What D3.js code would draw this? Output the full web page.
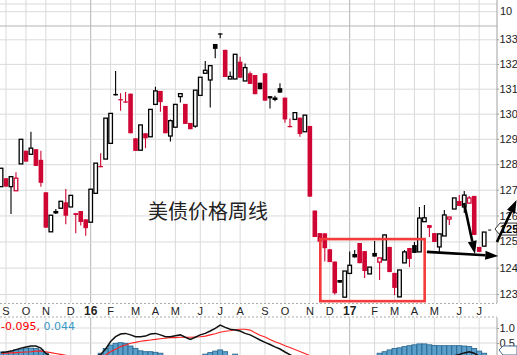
<!DOCTYPE html>
<html>
<head>
<meta charset="utf-8">
<title>美债价格周线</title>
<style>
  body { margin: 0; background: #fff; }
  svg { display: block; }
  text { font-family: "Liberation Sans", Arial, sans-serif; }
</style>
</head>
<body>
<div id="chart"></div>
<script src="https://d3js.org/d3.v7.min.js"></script>
<script>
// weekly bars, each dated on the Monday of its week
var firstWeek = "2015-08-31";
var opens = [127.12,127.45,127.12,126.96,128.01,128.53,128.39,128.59,128.17,126.90,125.37,126.14,126.28,126.51,126.33,126.09,126.17,125.85,
  125.74,126.86,127.93,128.20,128.82,130.79,130.58,130.49,130.80,129.02,128.55,129.22,129.08,130.37,130.91,130.31,129.11,129.46,130.68,130.39,
  129.63,129.50,130.73,131.62,131.35,132.81,133.24,132.57,131.39,131.39,132.09,131.31,131.62,131.55,131.24,131.62,130.70,130.61,131.02,130.64,
  129.51,129.77,129.84,129.28,129.51,126.19,125.32,125.31,124.70,124.23,123.53,122.88,123.78,124.52,124.94,124.63,123.76,124.56,124.21,124.29,
  124.79,123.80,122.89,124.18,124.75,124.86,124.60,125.76,125.63,125.32,124.79,125.21,125.86,126.25,126.56,126.33,126.48,126.76,124.79,124.82];
var highs = [127.84,127.45,127.51,127.68,128.98,128.53,129.28,128.59,128.53,126.90,126.01,126.25,126.55,127.03,126.78,126.09,126.17,125.85,
  127.02,128.04,128.43,129.82,130.01,131.71,130.82,130.87,130.80,129.02,129.55,129.22,130.17,131.08,130.91,130.31,129.77,130.37,130.80,130.39,
  129.63,130.94,131.46,132.12,131.93,132.81,133.25,132.57,131.69,132.39,132.29,132.02,131.69,131.55,131.24,131.62,130.70,130.72,131.22,130.64,
  129.81,130.04,129.84,129.94,129.51,126.19,125.32,125.31,124.70,124.23,123.53,123.87,124.61,124.67,124.94,124.63,124.02,125.02,124.37,125.27,
  124.79,123.80,123.91,124.67,124.75,124.98,126.33,126.41,125.63,125.32,125.29,126.21,125.94,126.68,126.79,126.95,126.76,126.76,124.79,125.36];
var lows = [127.12,127.12,126.06,126.96,128.01,128.10,128.39,127.93,127.12,125.53,125.37,126.06,126.28,125.66,126.33,125.31,125.61,125.22,
  125.74,126.86,127.88,128.20,128.82,130.73,130.12,130.44,129.22,128.52,128.55,128.63,129.08,130.37,130.08,129.22,128.89,129.46,130.45,129.59,
  129.38,129.44,130.73,131.62,130.25,132.23,133.04,131.47,131.39,131.39,131.44,131.31,131.19,130.78,130.98,130.52,130.21,130.50,130.84,129.64,
  129.46,129.77,129.08,129.28,126.73,125.17,124.99,124.23,124.21,122.98,123.43,122.88,123.78,124.39,124.17,123.61,123.76,124.42,123.53,124.29,
  123.83,122.96,122.89,124.18,124.02,124.56,124.60,125.76,125.17,124.98,124.60,125.21,125.63,126.25,126.37,126.10,126.48,125.25,124.60,124.82];
var closes = [127.84,127.12,127.51,127.45,128.98,128.10,128.63,127.93,127.27,125.53,126.01,126.15,126.55,125.99,126.78,126.02,125.75,125.51,
  127.02,128.04,127.88,129.82,130.01,130.73,130.56,130.44,129.22,128.52,129.55,129.02,130.17,130.91,130.46,129.22,129.72,130.37,130.80,129.59,
  129.38,130.94,131.46,131.74,131.93,132.61,133.20,131.47,131.49,132.39,131.44,131.85,131.19,130.78,130.98,130.52,130.61,130.62,130.84,129.77,
  129.46,130.04,129.19,129.94,126.73,125.17,124.99,124.74,124.21,123.03,123.43,123.87,124.09,124.39,124.17,123.87,124.02,124.42,124.37,125.25,
  123.83,123.23,123.91,124.60,124.33,124.56,125.90,125.91,125.52,124.98,125.29,126.02,125.94,126.68,126.37,126.79,126.68,125.25,124.60,125.36];

// MACD(12,26,9) panel
var macdLine = [0.18,0.20,0.23,0.28,0.33,0.37,0.40,0.40,0.33,0.15,0.05,-0.02,-0.05,-0.08,-0.07,-0.09,-0.13,-0.17,
  -0.08,0.05,0.12,0.30,0.55,0.71,0.80,0.82,0.77,0.71,0.71,0.73,0.80,0.82,0.77,0.71,0.71,0.74,0.77,0.69,
  0.62,0.69,0.77,0.82,0.90,0.99,1.10,1.02,0.96,0.93,0.90,0.82,0.77,0.69,0.60,0.52,0.45,0.37,0.30,0.20,
  0.11,0.02,-0.06,-0.12,-0.30,-0.60,-0.85,-1.05,-1.20,-1.40,-1.50,-1.50,-1.45,-1.38,-1.30,-1.25,-1.20,-1.12,-1.00,-0.90,
  -0.82,-0.75,-0.68,-0.58,-0.50,-0.40,-0.30,-0.22,-0.16,-0.12,-0.08,-0.02,0.03,0.08,0.12,0.17,0.21,0.16,0.06,0.02];
var signalLine = [0.16,0.16,0.17,0.18,0.19,0.20,0.21,0.23,0.23,0.21,0.18,0.15,0.12,0.09,0.06,0.03,0.00,-0.03,
  -0.04,-0.02,0.02,0.10,0.21,0.29,0.38,0.43,0.49,0.52,0.56,0.58,0.60,0.62,0.64,0.66,0.68,0.68,0.69,0.69,
  0.69,0.70,0.71,0.73,0.77,0.81,0.86,0.89,0.91,0.94,0.96,0.96,0.93,0.84,0.76,0.70,0.62,0.54,0.48,0.41,
  0.35,0.28,0.22,0.15,0.08,-0.05,-0.20,-0.35,-0.50,-0.65,-0.80,-0.92,-1.02,-1.09,-1.14,-1.17,-1.18,-1.17,-1.13,-1.10,
  -1.06,-1.02,-0.97,-0.92,-0.86,-0.80,-0.73,-0.66,-0.58,-0.52,-0.46,-0.40,-0.34,-0.29,-0.24,-0.19,-0.14,-0.10,-0.08,-0.06];
var histogram = [0.20,0.20,0.21,0.27,0.30,0.33,0.33,0.32,0.27,0.17,-0.05,-0.10,-0.12,-0.15,-0.12,-0.12,-0.13,-0.14,
  -0.04,0.07,0.16,0.32,0.43,0.49,0.51,0.49,0.40,0.32,0.24,0.21,0.21,0.19,0.16,0.05,0.03,0.06,0.08,0.00,
  -0.07,-0.01,0.06,0.13,0.18,0.23,0.27,0.21,0.07,0.13,-0.05,-0.10,-0.15,-0.20,-0.25,-0.30,-0.30,-0.30,-0.30,-0.30,
  -0.30,-0.30,-0.30,-0.30,-0.40,-0.60,-0.65,-0.70,-0.70,-0.75,-0.70,-0.60,-0.45,-0.30,-0.16,-0.08,-0.02,0.05,0.16,0.21,
  0.27,0.32,0.34,0.38,0.41,0.44,0.47,0.47,0.44,0.42,0.41,0.41,0.41,0.41,0.41,0.40,0.38,0.32,0.23,0.16];

var priceTicks = [123, 124, 125, 126, 127, 128, 129, 130, 131, 132, 133];
var macdTicks = [0.5, 1.0];
var title = "美债价格周线";
var macdReadout = ["-0.095, ", "0.044"];

// annotations, in (week number from the first bar, price)
var arrows = [
  {from: [92.95, 126.48], to: [95.16, 124.52]},
  {from: [85.5, 124.60], to: [99.83, 124.44]},
  {from: [99.56, 124.98], to: [103.5, 126.60]}
];
var boxWeeks = [64.1, 85.05];
var boxPrices = [125.09, 122.73];

var width = 517, height = 355;
var plotRight = 497;
var mainTop = 26, mainBottom = 303;
var macdTop = 317.5, macdBottom = 355;
var red = "#cf0533";

var t0 = d3.utcParse("%Y-%m-%d")(firstWeek);
var bars = closes.map(function(c, k) {
  return {date: new Date(t0.getTime() + k * 7 * 864e5), o: opens[k], h: highs[k], l: lows[k], c: c,
          prev: k > 0 ? closes[k - 1] : c, macd: macdLine[k], signal: signalLine[k], hist: histogram[k]};
});
function weekDate(k) { return new Date(t0.getTime() + k * 7 * 864e5); }

var x = d3.scaleUtc()
  .domain([Date.UTC(2016, 0, 4), Date.UTC(2017, 0, 2)])
  .range([90.7, 349.7]);
var y = d3.scaleLog().domain([123, 133]).range([294, 39.3]);
var ym = d3.scaleLinear().domain([0, 1]).range([358, 328]);

var svg = d3.select("#chart").append("svg")
  .attr("width", width).attr("height", height);

svg.append("rect").attr("width", width).attr("height", height).attr("fill", "#fff");

var defs = svg.append("defs");
defs.append("clipPath").attr("id", "clipMain")
  .append("rect").attr("x", 0).attr("y", 0).attr("width", plotRight).attr("height", mainBottom);
defs.append("clipPath").attr("id", "clipMacd")
  .append("rect").attr("x", 0).attr("y", macdTop).attr("width", plotRight).attr("height", macdBottom - macdTop);

// month ticks: the first weekly bar of each month
var monthTicks = d3.utcMonth.range(Date.UTC(2015, 8, 1), Date.UTC(2017, 7, 1))
  .map(function(m) { return {date: d3.utcMonday.ceil(m), month: m}; });

function gridV(g, y1, y2) {
  g.selectAll("line.v").data(monthTicks).enter().append("line")
    .attr("x1", function(d) { return x(d.date); })
    .attr("x2", function(d) { return x(d.date); })
    .attr("y1", y1).attr("y2", y2)
    .attr("stroke", function(d) { return d.month.getUTCMonth() === 0 ? "#b4b4b4" : "#dadada"; })
    .attr("stroke-width", 1);
}

// top strip (tail of the panel above)
var topG = svg.append("g");
topG.selectAll("line").data([4, 11.7]).enter().append("line")
  .attr("x1", 0).attr("x2", plotRight).attr("y1", function(d) { return d; }).attr("y2", function(d) { return d; })
  .attr("stroke", "#dadada");
topG.append("text").attr("x", 500).attr("y", 14.5).attr("font-size", 11).attr("fill", "#222").text("10");

// main panel
var main = svg.append("g");
gridV(main, 0, mainBottom);
main.append("g")
  .attr("transform", "translate(" + plotRight + ",0)")
  .call(d3.axisRight(y).tickValues(priceTicks).tickSize(-plotRight).tickFormat(""))
  .call(function(g) {
    g.select(".domain").remove();
    g.selectAll("line").attr("stroke", "#dadada");
  });
main.append("line").attr("x1", 0).attr("x2", plotRight).attr("y1", mainTop).attr("y2", mainTop)
  .attr("stroke", "#b4b4b4");

var yAxis = main.append("g")
  .attr("transform", "translate(" + plotRight + ",0)")
  .call(d3.axisRight(y).tickValues(priceTicks).tickSize(2).tickFormat(d3.format("d")));
yAxis.select(".domain").attr("stroke", "#a0a0a0").attr("d", "M0,0V" + mainBottom);
yAxis.selectAll("line").attr("stroke", "#a0a0a0");
yAxis.selectAll("text").attr("font-size", 11).attr("fill", "#222").attr("x", 2.5)
  .style("font-family", "'Liberation Sans', Arial, sans-serif");

// title
main.append("text").attr("x", 148).attr("y", 219)
  .style("font-family", "'Noto Sans CJK SC'").attr("font-size", 20).attr("fill", "#222")
  .text(title);

// candles
var candles = main.append("g").attr("clip-path", "url(#clipMain)");
var cg = candles.selectAll("g.c").data(bars).enter().append("g");
function col(d) { return d.c >= d.prev ? "#000" : red; }
cg.append("line")
  .attr("x1", function(d) { return x(d.date); })
  .attr("x2", function(d) { return x(d.date); })
  .attr("y1", function(d) { return y(d.h); })
  .attr("y2", function(d) { return y(d.l); })
  .attr("stroke", col).attr("stroke-width", 1.1);
cg.append("rect")
  .attr("x", function(d) { return x(d.date) - (d.c > d.o ? 1.8 : 2.3); })
  .attr("width", function(d) { return d.c > d.o ? 3.6 : 4.6; })
  .attr("y", function(d) { return y(Math.max(d.o, d.c)); })
  .attr("height", function(d) { return Math.max(1.2, Math.abs(y(d.o) - y(d.c))); })
  .attr("fill", function(d) { return d.c > d.o ? "#fff" : col(d); })
  .attr("stroke", function(d) { return d.c > d.o ? col(d) : "none"; })
  .attr("stroke-width", 1.3);

// last price marker
var last = bars[bars.length - 1];
main.append("line").attr("x1", x(last.date) + 4).attr("x2", x(last.date) + 7)
  .attr("y1", y(last.c) - 2).attr("y2", y(last.c) - 2).attr("stroke", "#000");
var ly = y(last.c) - 3;
main.append("path")
  .attr("d", "M495," + ly + "L500," + (ly - 6) + "H517V" + (ly + 6) + "H500Z")
  .attr("fill", "#fff").attr("stroke", "#333").attr("stroke-width", 1);
main.append("text").attr("x", 500).attr("y", ly + 4).attr("font-size", 11).attr("font-weight", "bold")
  .attr("fill", "#000").text(d3.format("d")(Math.floor(last.c)));

// red box
main.append("rect")
  .attr("x", x(weekDate(boxWeeks[0]))).attr("y", y(boxPrices[0]))
  .attr("width", x(weekDate(boxWeeks[1])) - x(weekDate(boxWeeks[0])))
  .attr("height", y(boxPrices[1]) - y(boxPrices[0]))
  .attr("fill", "none").attr("stroke", "#f43a3a").attr("stroke-width", 2.6);

// arrows
arrows.forEach(function(a) {
  var x1 = x(weekDate(a.from[0])), y1 = y(a.from[1]);
  var x2 = x(weekDate(a.to[0])), y2 = y(a.to[1]);
  var ang = Math.atan2(y2 - y1, x2 - x1), len = 13, hw = 4.5;
  var bx = x2 - len * Math.cos(ang), by = y2 - len * Math.sin(ang);
  main.append("line").attr("x1", x1).attr("y1", y1).attr("x2", bx).attr("y2", by)
    .attr("stroke", "#000").attr("stroke-width", 2.6);
  main.append("path")
    .attr("d", "M" + x2 + "," + y2 +
      "L" + (bx + hw * Math.sin(ang)) + "," + (by - hw * Math.cos(ang)) +
      "L" + (bx - hw * Math.sin(ang)) + "," + (by + hw * Math.cos(ang)) + "Z")
    .attr("fill", "#000");
});

// date strip
var strip = svg.append("g");
strip.selectAll("line.s").data([mainBottom + 0.5, macdTop - 0.5]).enter().append("line")
  .attr("x1", 0).attr("x2", plotRight).attr("y1", function(d) { return d; }).attr("y2", function(d) { return d; })
  .attr("stroke", "#aaa").attr("stroke-dasharray", "2,2");
strip.selectAll("text").data(monthTicks).enter().append("text")
  .attr("x", function(d) { return x(d.date); })
  .attr("y", 314.5)
  .attr("text-anchor", "middle")
  .attr("font-size", function(d) { return d.month.getUTCMonth() === 0 ? 12 : 11; })
  .attr("font-weight", function(d) { return d.month.getUTCMonth() === 0 ? "bold" : "normal"; })
  .attr("fill", "#222")
  .text(function(d) { return d.month.getUTCMonth() === 0 ? d3.utcFormat("%y")(d.month) : d3.utcFormat("%b")(d.month)[0]; });

// MACD panel
var mg = svg.append("g");
gridV(mg, macdTop, macdBottom);
mg.selectAll("line.h").data(macdTicks).enter().append("line")
  .attr("x1", 0).attr("x2", plotRight)
  .attr("y1", function(d) { return ym(d); }).attr("y2", function(d) { return ym(d); })
  .attr("stroke", "#dadada");
var inner = mg.append("g").attr("clip-path", "url(#clipMacd)");
inner.selectAll("rect").data(bars).enter().append("rect")
  .attr("x", function(d) { return x(d.date) - 2.5; })
  .attr("width", 5)
  .attr("y", function(d) { return ym(Math.max(0, d.hist)); })
  .attr("height", function(d) { return Math.abs(ym(d.hist) - ym(0)); })
  .attr("fill", "#5a9fca").attr("stroke", "#24628c").attr("stroke-width", 0.8);
inner.append("path").datum(bars)
  .attr("d", d3.line().x(function(d) { return x(d.date); }).y(function(d) { return ym(d.signal); }))
  .attr("fill", "none").attr("stroke", "#f22").attr("stroke-width", 1.1);
inner.append("path").datum(bars)
  .attr("d", d3.line().x(function(d) { return x(d.date); }).y(function(d) { return ym(d.macd); }))
  .attr("fill", "none").attr("stroke", "#111").attr("stroke-width", 1.5);

var mAxis = mg.append("g")
  .attr("transform", "translate(" + plotRight + ",0)")
  .call(d3.axisRight(ym).tickValues(macdTicks).tickSize(2).tickFormat(d3.format(".1f")));
mAxis.select(".domain").attr("stroke", "#a0a0a0").attr("d", "M0," + macdTop + "V" + macdBottom);
mAxis.selectAll("line").attr("stroke", "#a0a0a0");
mAxis.selectAll("text").attr("font-size", 11).attr("fill", "#222").attr("x", 2.5)
  .style("font-family", "'Liberation Sans', Arial, sans-serif");
mg.append("path").attr("d", "M499,350L503,346H517V355H503Z")
  .attr("fill", "#fff").attr("stroke", "#4a6f8f");

var rt = mg.append("text").attr("x", 1).attr("y", 330).attr("font-size", 11)
  .style("font-family", "'DejaVu Sans', sans-serif");
rt.append("tspan").attr("fill", "#f00").text(macdReadout[0]);
rt.append("tspan").attr("fill", "#3a98c8").text(macdReadout[1]);
</script>
</body>
</html>
